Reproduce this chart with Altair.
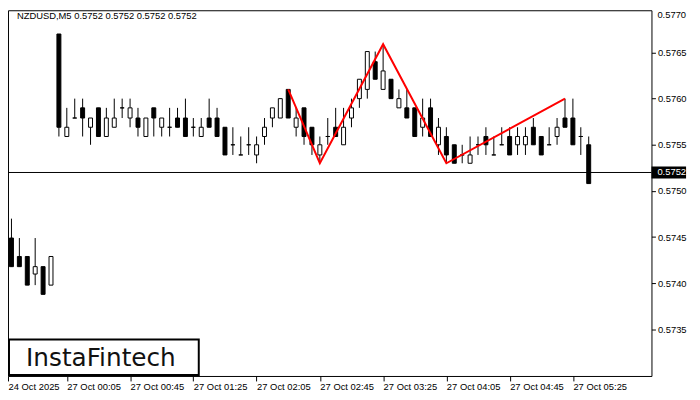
import json
import altair as alt
import pandas as pd

# ---- data (M5 candles, left to right) ----
opens = [0.57449, 0.57449, 0.57429, 0.57429, 0.57410, 0.57418, 0.57398, 0.57670, 0.57559, 0.57579,
         0.57590, 0.57569, 0.57590, 0.57559, 0.57569, 0.57590, 0.57579, 0.57579, 0.57559, 0.57590,
         0.57569, 0.57569, 0.57579, 0.57579, 0.57569, 0.57559, 0.57579, 0.57579, 0.57569, 0.57550,
         0.57539, 0.57550, 0.57539, 0.57559, 0.57579, 0.57579, 0.57610, 0.57569, 0.57590, 0.57569,
         0.57539, 0.57559, 0.57569, 0.57550, 0.57579, 0.57600, 0.57610, 0.57640, 0.57610, 0.57621,
         0.57590, 0.57590, 0.57590, 0.57569, 0.57590, 0.57550, 0.57559, 0.57550, 0.57539, 0.57530,
         0.57550, 0.57559, 0.57539, 0.57550, 0.57559, 0.57550, 0.57550, 0.57569, 0.57559, 0.57550,
         0.57559, 0.57579, 0.57579, 0.57559, 0.57550]
highs = [0.57449, 0.57470, 0.57449, 0.57429, 0.57449, 0.57418, 0.57429, 0.57670, 0.57590, 0.57600,
         0.57600, 0.57579, 0.57590, 0.57590, 0.57600, 0.57600, 0.57600, 0.57590, 0.57579, 0.57590,
         0.57579, 0.57590, 0.57590, 0.57600, 0.57579, 0.57579, 0.57600, 0.57590, 0.57569, 0.57569,
         0.57559, 0.57569, 0.57559, 0.57579, 0.57590, 0.57600, 0.57610, 0.57590, 0.57590, 0.57569,
         0.57559, 0.57579, 0.57590, 0.57590, 0.57600, 0.57621, 0.57651, 0.57651, 0.57659, 0.57621,
         0.57610, 0.57610, 0.57590, 0.57600, 0.57600, 0.57579, 0.57569, 0.57550, 0.57550, 0.57559,
         0.57559, 0.57569, 0.57559, 0.57569, 0.57569, 0.57569, 0.57569, 0.57579, 0.57559, 0.57569,
         0.57579, 0.57600, 0.57600, 0.57569, 0.57559]
lows = [0.57440, 0.57418, 0.57418, 0.57398, 0.57398, 0.57388, 0.57398, 0.57559, 0.57559, 0.57579,
        0.57559, 0.57550, 0.57559, 0.57559, 0.57569, 0.57579, 0.57569, 0.57559, 0.57559, 0.57559,
        0.57559, 0.57559, 0.57569, 0.57559, 0.57559, 0.57559, 0.57569, 0.57559, 0.57539, 0.57539,
        0.57539, 0.57539, 0.57530, 0.57550, 0.57569, 0.57579, 0.57579, 0.57559, 0.57550, 0.57539,
        0.57530, 0.57550, 0.57559, 0.57550, 0.57569, 0.57590, 0.57600, 0.57621, 0.57610, 0.57600,
        0.57590, 0.57579, 0.57559, 0.57559, 0.57559, 0.57539, 0.57530, 0.57530, 0.57530, 0.57530,
        0.57539, 0.57539, 0.57539, 0.57550, 0.57539, 0.57539, 0.57539, 0.57550, 0.57539, 0.57550,
        0.57550, 0.57569, 0.57550, 0.57539, 0.57508]
closes = [0.57440, 0.57418, 0.57418, 0.57398, 0.57418, 0.57388, 0.57429, 0.57569, 0.57569, 0.57579,
          0.57579, 0.57579, 0.57559, 0.57579, 0.57579, 0.57590, 0.57590, 0.57569, 0.57579, 0.57579,
          0.57579, 0.57569, 0.57569, 0.57559, 0.57569, 0.57569, 0.57569, 0.57559, 0.57539, 0.57550,
          0.57539, 0.57550, 0.57550, 0.57569, 0.57590, 0.57600, 0.57579, 0.57579, 0.57559, 0.57550,
          0.57550, 0.57559, 0.57559, 0.57569, 0.57590, 0.57621, 0.57651, 0.57621, 0.57630, 0.57600,
          0.57600, 0.57579, 0.57559, 0.57579, 0.57559, 0.57569, 0.57539, 0.57530, 0.57539, 0.57539,
          0.57550, 0.57550, 0.57539, 0.57550, 0.57539, 0.57559, 0.57559, 0.57550, 0.57539, 0.57550,
          0.57569, 0.57569, 0.57550, 0.57559, 0.57508]

# head-and-shoulders style pattern (candle index, price)
pattern_idx = [36, 40, 48, 56, 71]
pattern_price = [0.57610, 0.57530, 0.57659, 0.57530, 0.57600]

tick_index = [0.5625, 8, 16, 24, 32, 40, 48, 56, 64, 72]
tick_labels = ["24 Oct 2025", "27 Oct 00:05", "27 Oct 00:45", "27 Oct 01:25", "27 Oct 02:05",
               "27 Oct 02:45", "27 Oct 03:25", "27 Oct 04:05", "27 Oct 04:45", "27 Oct 05:25"]
price_ticks = [0.5735, 0.5740, 0.5745, 0.5750, 0.5755, 0.5760, 0.5765]
top_tick_label = "0.5770"
current_price = 0.5752
title_text = "NZDUSD,M5  0.5752 0.5752 0.5752 0.5752"
brand = "InstaFintech"

# ---- tables ----
candles = pd.DataFrame({"idx": list(range(len(opens))), "open": opens, "high": highs,
                        "low": lows, "close": closes})
pattern = pd.DataFrame({"idx": pattern_idx, "price": pattern_price})
cur = pd.DataFrame({"price": [current_price], "label": [f"{current_price:.4f}"]})

W, H = 651, 370
FONT = "Liberation Sans"
xscale = alt.Scale(domain=[0.5625, 81.9375], nice=False, zero=False)
yscale = alt.Scale(domain=[0.5729957, 0.5769572], nice=False, zero=False)

label_expr = json.dumps(tick_labels) + "[round(datum.value / 8)]"

x_axis = alt.Axis(values=tick_index, labelExpr=label_expr, orient="bottom", labelAlign="left",
                  labelBaseline="top", tickSize=5, labelPadding=1, domain=False, grid=False,
                  title=None, labelOverlap=False, labelFlush=False, labelBound=False,
                  tickColor="black", labelColor="black", labelFont=FONT, labelFontSize=9.5)
y_axis = alt.Axis(values=price_ticks, format=".4f", orient="right", tickSize=4, labelPadding=2,
                  domain=False, grid=False, title=None, tickColor="black", labelColor="black",
                  labelFont=FONT, labelFontSize=9.5, labelOverlap=False, labelFlush=False)


def X(field):
    return alt.X(field, scale=xscale, axis=x_axis)


def Y(field):
    return alt.Y(field, scale=yscale, axis=y_axis)


base = alt.Chart(candles)

wicks = base.mark_rule(color="black", strokeWidth=1, clip=True).encode(
    x=X("idx:Q"),
    y=Y("low:Q"),
    y2="high:Q",
)

bodies = base.transform_calculate(
    x0="datum.idx - 0.25", x1="datum.idx + 0.25"
).mark_rect(stroke="black", strokeWidth=1, clip=True).encode(
    x=X("x0:Q"),
    x2="x1:Q",
    y=Y("open:Q"),
    y2="close:Q",
    fill=alt.condition("datum.close >= datum.open", alt.value("white"), alt.value("black")),
)

pattern_line = alt.Chart(pattern).mark_line(color="#ff0000", strokeWidth=2, clip=True).encode(
    x=X("idx:Q"),
    y=Y("price:Q"),
)

price_line = alt.Chart(cur).mark_rule(color="black", strokeWidth=1).encode(
    y=Y("price:Q"),
)

price_tag = alt.Chart(cur).mark_tick(color="black", opacity=1, thickness=12, size=35,
                                     orient="horizontal").encode(
    x=alt.value(668.5),
    y=Y("price:Q"),
)

price_tag_text = alt.Chart(cur).mark_text(align="left", baseline="middle", color="white",
                                          font=FONT, fontSize=9.5).encode(
    x=alt.value(657),
    y=Y("price:Q"),
    text="label:N",
)

top_label = alt.Chart(cur).mark_text(text=top_tick_label, align="left", baseline="top",
                                     color="black", font=FONT, fontSize=9.5).encode(
    x=alt.value(657), y=alt.value(0),
)

title = alt.Chart(cur).mark_text(text=title_text, align="left", baseline="top", color="black",
                                 font=FONT, fontSize=9.5).encode(
    x=alt.value(9), y=alt.value(1),
)

brand_box = alt.Chart(cur).mark_rect(fill="white", stroke="black", strokeWidth=2).encode(
    x=alt.value(1), x2=alt.value(193), y=alt.value(333), y2=alt.value(369),
)

brand_text = alt.Chart(cur).mark_text(text=brand, align="center", baseline="alphabetic",
                                      color="#111111", font="DejaVu Sans", fontSize=25).encode(
    x=alt.value(94), y=alt.value(360),
)

chart = alt.layer(
    wicks, bodies, pattern_line, price_line, price_tag, price_tag_text, top_label, title,
    brand_box, brand_text,
).properties(
    width=W, height=H,
    autosize=alt.AutoSizeParams(type="none"),
    padding={"left": 0, "top": 0, "right": 41, "bottom": 22},
    background="white",
).configure_view(stroke="black", strokeWidth=1)

chart.save("out.html", embed_options={"renderer": "svg", "actions": False})
